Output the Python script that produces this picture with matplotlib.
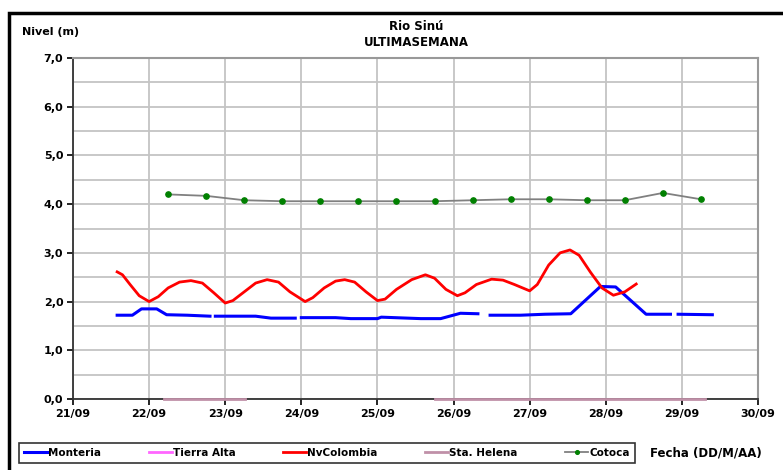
import numpy as np
import matplotlib.pyplot as plt
from matplotlib.patches import Rectangle

plt.rcParams['font.family'] = ['DejaVu Sans']

# days counted from 21/09 00:00
day_labels = ['21/09', '22/09', '23/09', '24/09', '25/09', '26/09', '27/09', '28/09', '29/09', '30/09']

cotoca_t = [1.25, 1.75, 2.25, 2.75, 3.25, 3.75, 4.25, 4.75, 5.25, 5.75, 6.25, 6.75, 7.25, 7.75, 8.25]
cotoca_v = [4.20, 4.17, 4.08, 4.06, 4.06, 4.06, 4.06, 4.06, 4.08, 4.10, 4.10, 4.08, 4.08, 4.23, 4.10]

nvcol_t = [0.58, 0.65, 0.75, 0.87, 1.0, 1.12, 1.25, 1.4, 1.55, 1.7, 1.85, 2.0, 2.1, 2.25, 2.4,
           2.55, 2.7, 2.85, 3.05, 3.15, 3.3, 3.45, 3.57, 3.7, 3.85, 4.0, 4.1, 4.25, 4.45, 4.63,
           4.75, 4.9, 5.05, 5.15, 5.3, 5.5, 5.65, 5.8, 6.0, 6.1, 6.25, 6.4, 6.53, 6.65, 6.8,
           6.95, 7.1, 7.25, 7.4]
nvcol_v = [2.61, 2.55, 2.35, 2.12, 2.0, 2.1, 2.28, 2.4, 2.43, 2.38, 2.18, 1.97, 2.02, 2.2, 2.38,
           2.45, 2.4, 2.2, 2.0, 2.08, 2.28, 2.42, 2.45, 2.4, 2.2, 2.02, 2.05, 2.25, 2.45, 2.55,
           2.48, 2.25, 2.12, 2.18, 2.35, 2.46, 2.44, 2.35, 2.22, 2.35, 2.75, 3.0, 3.06, 2.95, 2.6,
           2.28, 2.13, 2.2, 2.36]

monteria_t = [0.58, 0.78, 0.9, 1.1, 1.23, 1.5, 1.8, 1.84, 1.87, 2.4, 2.6, 2.92, 2.96, 3.0, 3.45,
              3.65, 4.0, 4.05, 4.57, 4.83, 5.09, 5.32, 5.4, 5.48, 5.88, 6.2, 6.54, 6.93, 7.13,
              7.53, 7.85, 7.9, 7.95, 8.4]
monteria_v = [1.72, 1.72, 1.85, 1.85, 1.73, 1.72, 1.70, np.nan, 1.70, 1.70, 1.66, 1.66, np.nan, 1.67, 1.67,
              1.65, 1.65, 1.68, 1.65, 1.65, 1.76, 1.75, np.nan, 1.72, 1.72, 1.74, 1.75, 2.31, 2.30,
              1.74, 1.74, np.nan, 1.74, 1.73]

helena_t = [1.2, 2.26, 2.3, 4.76, 8.3]
helena_v = [0.0, 0.0, np.nan, 0.0, 0.0]

tierra_t = []
tierra_v = []

fig = plt.figure(figsize=(7.83, 4.70), dpi=100)
ax = fig.add_axes([73/783, 71/470, 685/783, 341/470])

ax.plot(monteria_t, monteria_v, color='#0000ff', lw=2.2, label='Monteria', zorder=4)
ax.plot(tierra_t, tierra_v, color='#ff66ff', lw=2.0, label='Tierra Alta')
ax.plot(nvcol_t, nvcol_v, color='#ff0000', lw=2.0, label='NvColombia', zorder=5)
ax.plot(helena_t, helena_v, color='#c090a8', lw=2.0, label='Sta. Helena', zorder=3, clip_on=False)
ax.plot(cotoca_t, cotoca_v, color='#808080', lw=1.3, marker='o', ms=3.8,
        mfc='#008000', mec='#008000', label='Cotoca', zorder=6)

ax.set_xlim(0, 9)
ax.set_ylim(0, 7)
ax.set_xticks(range(10))
ax.set_xticklabels(day_labels)
ax.set_yticks(np.arange(0, 7.5, 1))
ax.set_yticklabels([f'{v:.1f}'.replace('.', ',') for v in np.arange(0, 7.5, 1)])
ax.set_yticks(np.arange(0, 7.5, 0.5), minor=True)
ax.tick_params(axis='y', which='minor', length=0)
ax.tick_params(axis='both', which='major', labelsize=8, length=4, width=1.2, direction='out', pad=3)
for lab in ax.get_xticklabels() + ax.get_yticklabels():
    lab.set_fontweight('bold')
ax.grid(True, which='both', color='#c4c4c4', lw=1.3)
ax.set_axisbelow(True)
for side in ['top', 'right']:
    ax.spines[side].set_color('#999999')
    ax.spines[side].set_linewidth(1.5)
for side in ['left', 'bottom']:
    ax.spines[side].set_color('#333333')
    ax.spines[side].set_linewidth(1.3)

fig.text(22/783, 1 - 32/470, 'Nivel (m)', fontsize=8, fontweight='bold', va='center')
fig.text(416/783, 1 - 27/470, 'Rio Sinú', fontsize=8.5, fontweight='bold', ha='center', va='center')
fig.text(416/783, 1 - 43/470, 'ULTIMASEMANA', fontsize=8.5, fontweight='bold', ha='center', va='center')
fig.text(650/783, 1 - 453/470, 'Fecha (DD/M/AA)', fontsize=8.5, fontweight='bold', va='center')

leg = fig.legend(loc='center', bbox_to_anchor=(14/783, 4/470, 626/783, 26/470), mode='expand',
                 ncol=5, fontsize=7.5, frameon=True, fancybox=False, edgecolor='black',
                 handlelength=2.2, handletextpad=0.1, borderpad=0.5, markerscale=0.7)
leg.get_frame().set_linewidth(1.2)
for t in leg.get_texts():
    t.set_fontweight('bold')

fig.patches.append(Rectangle((9/783, -0.02), 1.05, 1.02 - 13/470, transform=fig.transFigure,
                             fill=False, edgecolor='black', lw=2.5))

fig.savefig('out.png', dpi=100)
